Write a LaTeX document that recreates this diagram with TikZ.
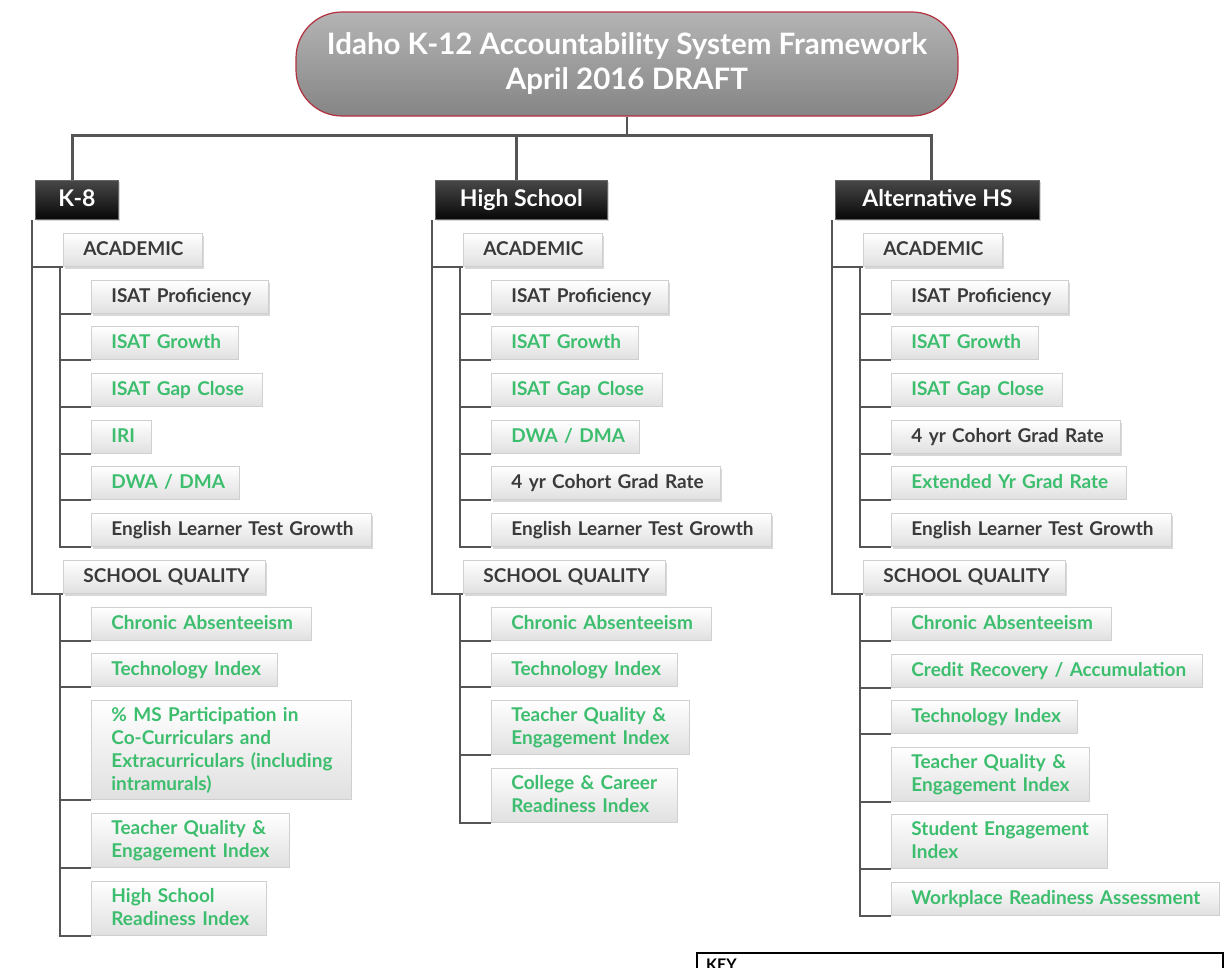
\documentclass[tikz,border=0pt]{standalone}
\usepackage{fontspec}
\setmainfont{Lato}
\usetikzlibrary{shadows}
\definecolor{grn}{HTML}{3DBE6E}
\definecolor{dk}{HTML}{3A3A3A}
\definecolor{conn}{HTML}{555555}
\definecolor{boxline}{HTML}{D0D0D0}
\definecolor{boxbot}{HTML}{E0E0E0}
\definecolor{ttop}{HTML}{B4B4B4}
\definecolor{tbot}{HTML}{858585}
\definecolor{tborder}{HTML}{B3303F}
\newcommand\mystrut{\rule[-3.5pt]{0pt}{19pt}}
\tikzset{
  base/.style={anchor=north west, draw=boxline, line width=0.8pt, top color=white, bottom color=boxbot,
    inner xsep=20pt, inner ysep=0pt, minimum height=33pt, align=left,
    font=\fontsize{19}{23}\selectfont\bfseries,
    execute at begin node=\mystrut, execute at end node=\mystrut},
  one/.style={execute at begin node=\mystrut\hbox\bgroup, execute at end node=\egroup\mystrut},
  gitem/.style={base, text width=#1, text=grn},
  ditem/.style={base, text width=#1, text=dk, drop shadow={opacity=0.3, shadow xshift=2pt, shadow yshift=-3pt}},
  hdr/.style={anchor=north west, draw=black!60, line width=0.8pt, top color=black!72, bottom color=black!97,
    text=white, font=\fontsize{23}{26}\selectfont\bfseries, minimum height=39pt, minimum width=#1,
    inner sep=0pt, drop shadow={opacity=0.3, shadow xshift=2pt, shadow yshift=-2pt}},
  conn/.style={draw=conn, line width=2.6pt},
}
\begin{document}
\begin{tikzpicture}[x=1pt, y=-1pt]
\useasboundingbox (0,0) rectangle (1225,967);
\fill[white] (0,0) rectangle (1225,967);
\clip (0,0) rectangle (1225,967);

% title
\node[draw=tborder, line width=1.2pt, top color=ttop, bottom color=tbot, rounded corners=46pt,
  minimum width=662pt, minimum height=104pt, inner sep=0pt, text=white, align=center,
  font=\fontsize{29.5}{35}\selectfont\bfseries] (title) at (627,64)
  {Idaho K-12 Accountability System Framework\\April 2016 DRAFT};

% ---------------- K-8 ----------------
\node[hdr=83pt] (k8) at (35,180) {\mystrut K-8};
\node[ditem=99pt, one] (k8a) at (63,233) {ACADEMIC};
\node[ditem=137pt, one] (k8a1) at (91,280) {ISAT Proficiency};
\node[gitem=107pt, one] (k8a2) at (91,326) {ISAT Growth};
\node[gitem=131pt, one] (k8a3) at (91,373) {ISAT Gap Close};
\node[gitem=20pt, one] (k8a4) at (91,420) {IRI};
\node[gitem=108pt, one] (k8a5) at (91,466) {DWA / DMA};
\node[ditem=240pt, one] (k8a6) at (91,513) {English Learner Test Growth};
\node[ditem=162pt, one] (k8s) at (63,560) {SCHOOL QUALITY};
\node[gitem=180pt, one] (k8s1) at (91,607) {Chronic Absenteeism};
\node[gitem=146pt, one] (k8s2) at (91,653) {Technology Index};
\node[gitem=220pt, minimum height=99pt] (k8s3) at (91,700) {\mbox{\% MS Participation in}\\\mbox{Co-Curriculars and}\\\mbox{Extracurriculars (including}\\\mbox{intramurals)}};
\node[gitem=158pt, minimum height=54pt] (k8s4) at (91,813) {\mbox{Teacher Quality \&}\\\mbox{Engagement Index}};
\node[gitem=135pt, minimum height=54pt] (k8s5) at (91,881) {\mbox{High School}\\\mbox{Readiness Index}};

% ---------------- High School ----------------
\node[hdr=172pt] (hs) at (435,180) {\mystrut High School};
\node[ditem=99pt, one] (hsa) at (463,233) {ACADEMIC};
\node[ditem=137pt, one] (hsa1) at (491,280) {ISAT Proficiency};
\node[gitem=107pt, one] (hsa2) at (491,326) {ISAT Growth};
\node[gitem=131pt, one] (hsa3) at (491,373) {ISAT Gap Close};
\node[gitem=108pt, one] (hsa4) at (491,420) {DWA / DMA};
\node[ditem=189pt, one] (hsa5) at (491,466) {4 yr Cohort Grad Rate};
\node[ditem=240pt, one] (hsa6) at (491,513) {English Learner Test Growth};
\node[ditem=162pt, one] (hss) at (463,560) {SCHOOL QUALITY};
\node[gitem=180pt, one] (hss1) at (491,607) {Chronic Absenteeism};
\node[gitem=146pt, one] (hss2) at (491,653) {Technology Index};
\node[gitem=158pt, minimum height=54pt] (hss3) at (491,700) {\mbox{Teacher Quality \&}\\\mbox{Engagement Index}};
\node[gitem=146pt, minimum height=54pt] (hss4) at (491,768) {\mbox{College \& Career}\\\mbox{Readiness Index}};

% ---------------- Alternative HS ----------------
\node[hdr=204pt] (al) at (835,180) {\mystrut Alternative HS};
\node[ditem=99pt, one] (ala) at (863,233) {ACADEMIC};
\node[ditem=137pt, one] (ala1) at (891,280) {ISAT Proficiency};
\node[gitem=107pt, one] (ala2) at (891,326) {ISAT Growth};
\node[gitem=131pt, one] (ala3) at (891,373) {ISAT Gap Close};
\node[ditem=189pt, one] (ala4) at (891,420) {4 yr Cohort Grad Rate};
\node[gitem=195pt, one] (ala5) at (891,466) {Extended Yr Grad Rate};
\node[ditem=240pt, one] (ala6) at (891,513) {English Learner Test Growth};
\node[ditem=162pt, one] (als) at (863,560) {SCHOOL QUALITY};
\node[gitem=180pt, one] (als1) at (891,607) {Chronic Absenteeism};
\node[gitem=271pt, one] (als2) at (891,654) {Credit Recovery / Accumulation};
\node[gitem=146pt, one] (als3) at (891,700) {Technology Index};
\node[gitem=158pt, minimum height=54pt] (als4) at (891,747) {\mbox{Teacher Quality \&}\\\mbox{Engagement Index}};
\node[gitem=176pt, minimum height=54pt] (als5) at (891,814) {\mbox{Student Engagement}\\\mbox{Index}};
\node[gitem=288pt, one] (als6) at (891,882) {Workplace Readiness Assessment};

% ---------------- connectors ----------------
\draw[conn] (title.south) -- ++(0,19) coordinate (bus);
\draw[conn] (bus) -| ([xshift=-4.5pt]k8.north);
\draw[conn] (bus) -| ([xshift=-5pt]hs.north);
\draw[conn] (bus) -| ([xshift=-6pt]al.north);

\foreach \c in {k8,hs,al}{
  \draw[conn] ([xshift=-3pt]\c.south west) |- (\c a.south west);
  \draw[conn] ([xshift=-3pt]\c.south west) |- (\c s.south west);
}
\foreach \c/\n in {k8a/6,hsa/6,ala/6,k8s/5,hss/4,als/6}{
  \foreach \i in {1,...,\n}{
    \draw[conn] ([xshift=-3pt]\c.south west) |- (\c\i.south west);
  }
}

% ---------------- key ----------------
\node[draw=black, line width=1.5pt, anchor=north west, minimum width=526pt, minimum height=40pt, inner sep=0pt] (key) at (696,952) {};
\node[anchor=north west, inner sep=0pt, font=\fontsize{16}{18}\selectfont\bfseries] (keylbl) at ([xshift=10pt,yshift=-7pt]key.north west) {KEY};
\end{tikzpicture}
\end{document}
